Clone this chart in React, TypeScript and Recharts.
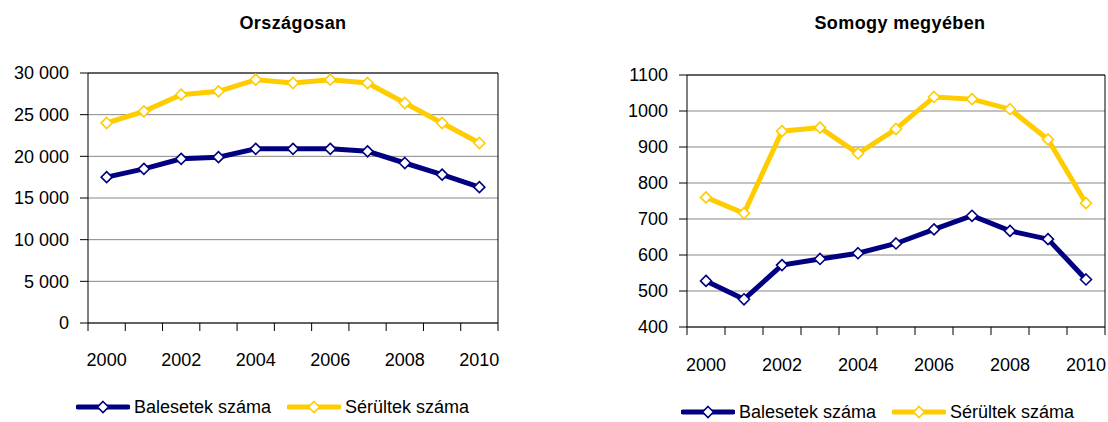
import React from 'react'
import { LineChart, Line, XAxis, YAxis, CartesianGrid, ReferenceLine } from 'recharts'

// years on the category axis
const years = [2000, 2001, 2002, 2003, 2004, 2005, 2006, 2007, 2008, 2009, 2010]
const yearLabels = [2000, 2002, 2004, 2006, 2008, 2010]

// Országosan
const orszBalesetek = [17500, 18500, 19700, 19900, 20900, 20900, 20900, 20600, 19200, 17800, 16300]
const orszSerultek = [24000, 25400, 27400, 27800, 29200, 28800, 29200, 28800, 26400, 24000, 21600]
const orszTicks = [0, 5000, 10000, 15000, 20000, 25000, 30000]

// Somogy megyében
const somogyBalesetek = [528, 477, 572, 589, 605, 632, 671, 709, 667, 644, 532]
const somogySerultek = [760, 716, 944, 954, 882, 950, 1039, 1033, 1005, 921, 744]
const somogyTicks = [400, 500, 600, 700, 800, 900, 1000, 1100]

const seriesNames = ['Balesetek száma', 'Sérültek száma']
const NAVY = '#000080'
const GOLD = '#FFCC00'
const FONT = '"Liberation Sans", Arial, sans-serif'

// tick marks sit between the years
const boundaries = [...years.map(y => y - 0.5), years[years.length - 1] + 0.5]

const toRows = (a: number[], b: number[]) =>
  years.map((year, i) => ({ year, balesetek: a[i], serultek: b[i] }))

const spaced = (v: number) => String(v).replace(/\B(?=(\d{3})+(?!\d))/g, ' ')

function diamondDot(color: string) {
  return (p: any) => {
    const { cx, cy, index } = p
    if (cx == null || cy == null) return <g key={index} />
    const r = 5.5
    return (
      <path
        key={index}
        d={`M${cx},${cy - r}L${cx + r},${cy}L${cx},${cy + r}L${cx - r},${cy}Z`}
        fill="#fff"
        stroke={color}
        strokeWidth={1.6}
      />
    )
  }
}

// tick marks only, no text
const noLabel = (p: any) => <g key={p.index} />

function LegendIcon({ color }: { color: string }) {
  return (
    <svg width={54} height={14} style={{ display: 'block', flex: 'none' }}>
      <line x1={2} y1={7} x2={52} y2={7} stroke={color} strokeWidth={5} strokeLinecap="round" />
      <path d="M27,1.5L32.5,7L27,12.5L21.5,7Z" fill="#fff" stroke={color} strokeWidth={1.6} />
    </svg>
  )
}

function LegendRow({ left, top }: { left: number; top: number }) {
  const colors = [NAVY, GOLD]
  return (
    <div
      style={{
        position: 'absolute', left, top, width: 'max-content', whiteSpace: 'nowrap', lineHeight: '18px',
        display: 'flex', alignItems: 'center', fontFamily: FONT, fontSize: 18,
      }}
    >
      {seriesNames.map((n, i) => (
        <div key={n} style={{ display: 'flex', alignItems: 'center', marginRight: i === 0 ? 16 : 0 }}>
          <LegendIcon color={colors[i]} />
          <span style={{ marginLeft: 4 }}>{n}</span>
        </div>
      ))}
    </div>
  )
}

type PanelProps = {
  title: string
  rows: { year: number; balesetek: number; serultek: number }[]
  yTicks: number[]
  format?: (v: number) => string
  left: number
  width: number
  margin: { top: number; right: number; left: number; bottom: number }
  yWidth: number
  labelGap: number
  titleLeft: number
  titleWidth: number
}

function Panel(props: PanelProps) {
  const { rows, yTicks, margin } = props
  const yMin = yTicks[0]
  const yMax = yTicks[yTicks.length - 1]
  const domain: [number, number] = [boundaries[0], boundaries[boundaries.length - 1]]
  return (
    <div style={{ position: 'absolute', left: props.left, top: 0, width: props.width, height: 422 }}>
      <div
        style={{
          position: 'absolute', left: props.titleLeft, top: 13, width: props.titleWidth,
          textAlign: 'center', fontFamily: FONT, fontWeight: 'bold', fontSize: 18, letterSpacing: 0.4,
        }}
      >
        {props.title}
      </div>
      <LineChart width={props.width} height={422} data={rows} margin={margin}>
        <CartesianGrid xAxisId="grid" vertical={false} stroke="#868686" strokeWidth={1} />
        <XAxis
          xAxisId="grid"
          type="number"
          dataKey="year"
          domain={domain}
          ticks={boundaries}
          tick={noLabel}
          tickSize={8}
          height={1}
          stroke="#000"
          tickLine={{ stroke: '#000' }}
          axisLine={{ stroke: '#000' }}
          interval={0}
          allowDecimals
        />
        <XAxis
          xAxisId="lab"
          type="number"
          dataKey="year"
          domain={domain}
          ticks={yearLabels}
          tickSize={0}
          tickMargin={props.labelGap}
          tickLine={false}
          axisLine={false}
          height={1}
          interval={0}
          tick={{ fill: '#000', fontSize: 18, fontFamily: FONT }}
        />
        <YAxis
          xAxisId="grid"
          domain={[yMin, yMax]}
          ticks={yTicks}
          width={props.yWidth}
          tickSize={8}
          tickMargin={11}
          stroke="#000"
          interval={0}
          tickFormatter={props.format}
          tick={{ fill: '#000', fontSize: 18, fontFamily: FONT }}
        />
        <ReferenceLine xAxisId="grid" y={yMax} stroke="#000" />
        <ReferenceLine xAxisId="grid" x={domain[1]} stroke="#000" />
        <Line
          xAxisId="grid"
          dataKey="balesetek"
          name={seriesNames[0]}
          stroke={NAVY}
          strokeWidth={5}
          dot={diamondDot(NAVY)}
          activeDot={false}
          isAnimationActive={false}
        />
        <Line
          xAxisId="grid"
          dataKey="serultek"
          name={seriesNames[1]}
          stroke={GOLD}
          strokeWidth={5}
          dot={diamondDot(GOLD)}
          activeDot={false}
          isAnimationActive={false}
        />
      </LineChart>
    </div>
  )
}

export default function App() {
  return (
    <div style={{ position: 'absolute', left: 0, top: 0, width: 1108, height: 422, background: '#fff', overflow: 'hidden' }}>
      <Panel
        title="Országosan"
        rows={toRows(orszBalesetek, orszSerultek)}
        yTicks={orszTicks}
        format={spaced}
        left={0}
        width={520}
        margin={{ top: 73, right: 22, left: 0, bottom: 97 }}
        yWidth={88}
        labelGap={29}
        titleLeft={88}
        titleWidth={410}
      />
      <Panel
        title="Somogy megyében"
        rows={toRows(somogyBalesetek, somogySerultek)}
        yTicks={somogyTicks}
        left={520}
        width={588}
        margin={{ top: 75, right: 3, left: 87, bottom: 93 }}
        yWidth={80}
        labelGap={30}
        titleLeft={171}
        titleWidth={418}
      />
      <LegendRow left={76} top={398} />
      <LegendRow left={681} top={403} />
    </div>
  )
}
